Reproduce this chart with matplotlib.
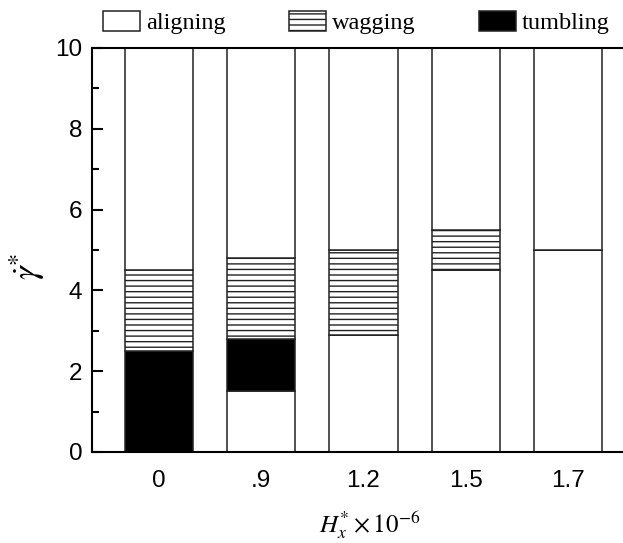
import matplotlib
matplotlib.use("Agg")
import matplotlib.pyplot as plt
from matplotlib.patches import Patch
import numpy as np

# field strength labels and regime heights (in units of shear rate)
fields = ['0', '.9', '1.2', '1.5', '1.7']
align_low = [0.0, 1.5, 2.9, 4.5, 5.0]
tumbling = [2.5, 1.3, 0.0, 0.0, 0.0]
wagging = [2.0, 2.0, 2.1, 1.0, 0.0]
ymax = 10

plt.rcParams['font.family'] = ['Liberation Sans', 'DejaVu Sans']
plt.rcParams['mathtext.fontset'] = 'stix'
plt.rcParams['hatch.linewidth'] = 1.0

fig = plt.figure(figsize=(6.23, 5.43), dpi=100)
ax = fig.add_axes([92 / 623, 91 / 543, 543 / 623, 404 / 543])

x = np.arange(len(fields))
w = 0.665
ec = '#222222'
lo = np.array(align_low)
tu = np.array(tumbling)
wa = np.array(wagging)
hi = ymax - lo - tu - wa

ax.bar(x, lo, w, color='white', edgecolor=ec, linewidth=1.1)
ax.bar(x, tu, w, bottom=lo, color='black', edgecolor=ec, linewidth=1.1)
ax.bar(x, wa, w, bottom=lo + tu, color='white', edgecolor=ec, linewidth=1.1, hatch='---')
ax.bar(x, hi, w, bottom=lo + tu + wa, color='white', edgecolor=ec, linewidth=1.1)

ax.set_xlim(-0.655, len(fields) - 1 + 0.655)
ax.set_ylim(0, ymax)
ax.set_xticks(x)
ax.set_xticklabels(fields)
ax.set_yticks(np.arange(0, 11, 2))
ax.set_yticks(np.arange(1, 11, 2), minor=True)
ax.tick_params(axis='y', which='major', direction='in', length=8, width=1.5, labelsize=17.5, pad=7)
ax.tick_params(axis='y', which='minor', direction='in', length=5, width=1.5)
ax.tick_params(axis='x', length=0, labelsize=17.5, pad=13)
for s in ax.spines.values():
    s.set_linewidth(1.5)

fig.text(370 / 623, 1 - 509 / 543, r'$H_x^{*}\times10^{-6}$', ha='center', va='top', fontsize=18)
fig.text(27 / 623, 1 - 266 / 543, r'$\dot{\gamma}^{*}$', ha='center', va='center', rotation=90, fontsize=25)

handles = [Patch(facecolor='white', edgecolor=ec, linewidth=1.1),
           Patch(facecolor='white', edgecolor=ec, linewidth=1.1, hatch='---'),
           Patch(facecolor='black', edgecolor=ec, linewidth=1.1)]
fig.legend(handles, ['aligning', 'wagging', 'tumbling'], loc='upper left',
           bbox_to_anchor=(103 / 623, 1 - 11 / 543), ncol=3, frameon=False,
           prop={'family': 'Liberation Serif', 'size': 17.5}, handlelength=1.52,
           handleheight=0.9, handletextpad=0.25, columnspacing=2.6, borderpad=0,
           borderaxespad=0)

fig.savefig('out.png', dpi=100)
